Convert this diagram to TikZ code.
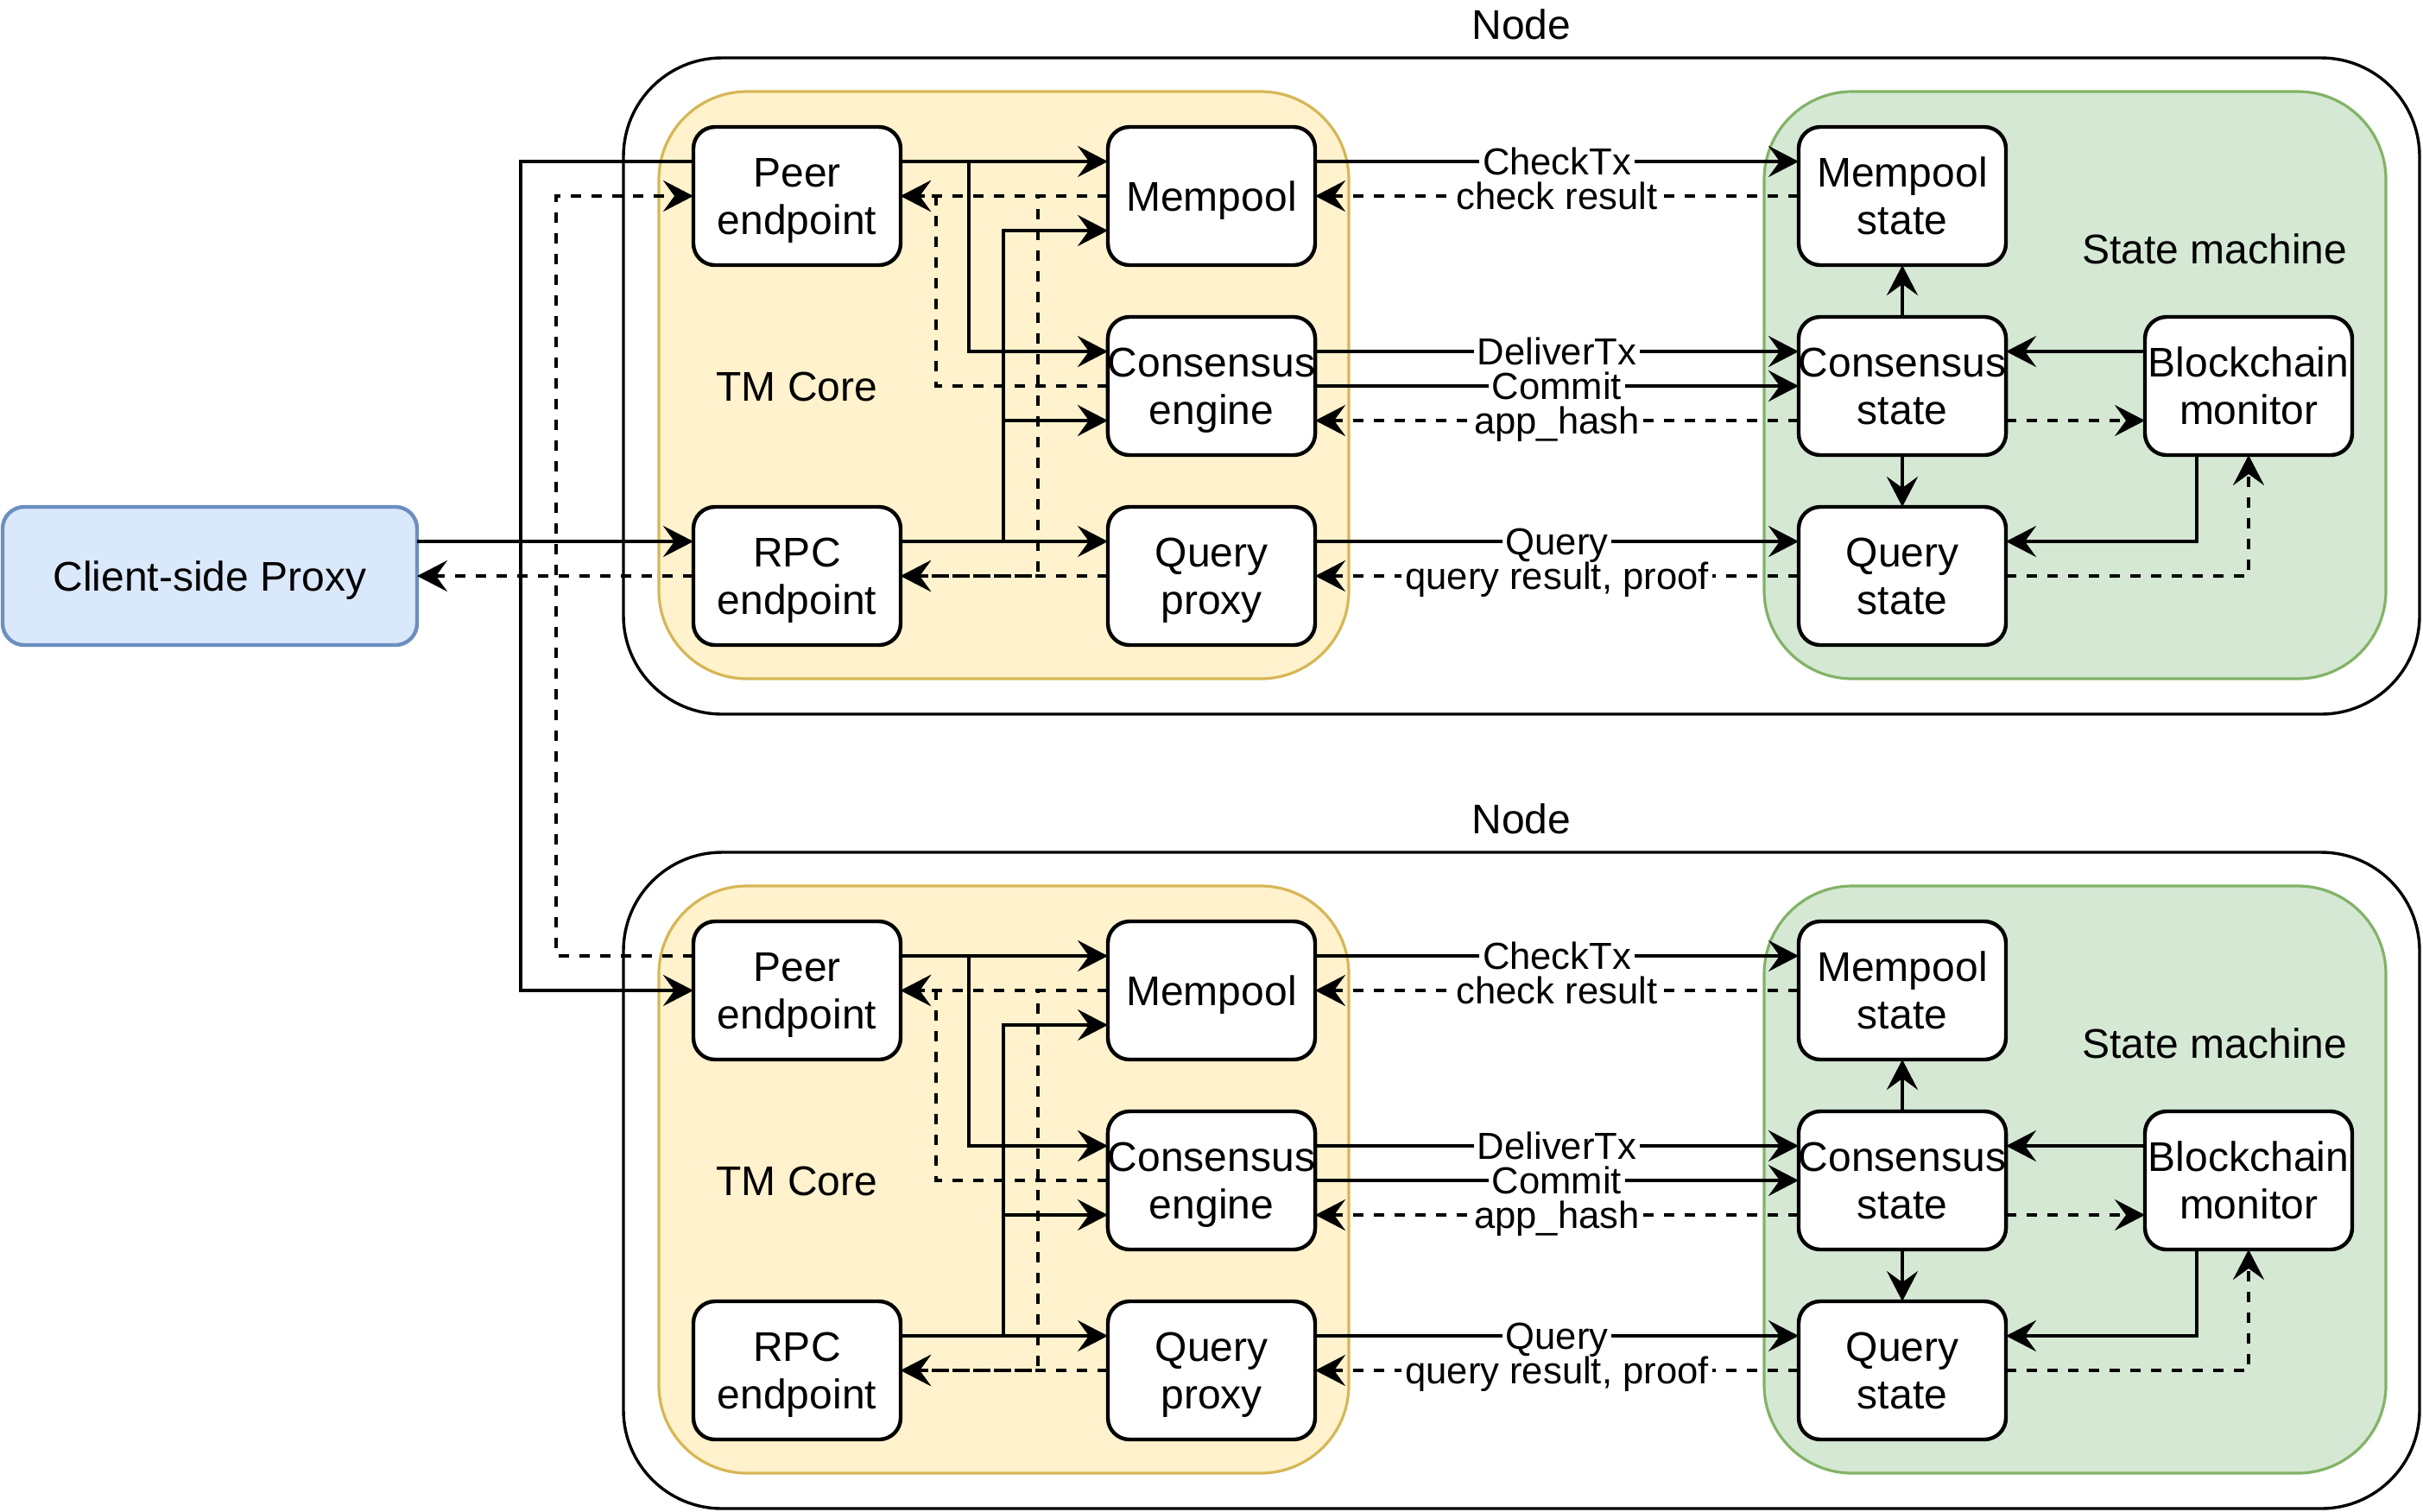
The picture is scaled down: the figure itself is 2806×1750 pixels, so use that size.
\documentclass[tikz,border=0pt]{standalone}
\usepackage{fontspec}
\setmainfont{Liberation Sans}
\usetikzlibrary{arrows.meta}
\definecolor{tmfill}{HTML}{FFF2CC}
\definecolor{tmdraw}{HTML}{D6B656}
\definecolor{smfill}{HTML}{D5E8D4}
\definecolor{smdraw}{HTML}{82B366}
\definecolor{cpfill}{HTML}{DAE8FC}
\definecolor{cpdraw}{HTML}{6C8EBF}
\tikzset{
  box/.style={draw=black, line width=1.1pt, fill=white, rounded corners=6.25pt,
    minimum width=60pt, minimum height=40pt, inner sep=0pt, outer sep=0pt,
    align=center, font=\fontsize{12}{13.75}\selectfont, text depth=0pt},
  cont/.style={line width=0.8pt, rounded corners=25.5pt},
  outerbox/.style={draw=black, line width=0.85pt, rounded corners=28.5pt, fill=white},
  conn/.style={line width=1pt, -{Stealth[length=8.75pt,width=9pt,inset=3.25pt]}},
  ret/.style={conn, dash pattern=on 3pt off 3pt},
  lbl/.style={fill=white, inner xsep=1pt, inner ysep=0pt,
    font=\fontsize{10.9}{12}\selectfont, text height=7.8pt, text depth=0pt, pos=0.5},
  title/.style={font=\fontsize{12}{13.75}\selectfont, anchor=base, inner sep=0pt},
}
\newcommand\tmblock[2]{%
\begin{scope}[shift={(0,#2)}]
  \node[title] (#1title) at (1762,45) {Node};
  \draw[outerbox] (722,67) rectangle (2802,827);
  \draw[cont, draw=tmdraw, fill=tmfill] (763,106) rectangle (1562,786);
  \draw[cont, draw=smdraw, fill=smfill] (2043,106) rectangle (2763,786);
  \node[title] (#1tmlbl) at (923,464) {TM Core};
  \node[title] (#1smlbl) at (2565,305) {State machine};
  \node[box] (#1peer) at (923,227) {Peer\\endpoint};
  \node[box] (#1mem) at (1403,227) {Mempool};
  \node[box] (#1ce) at (1403,447) {Consensus\\engine};
  \node[box] (#1rpc) at (923,667) {RPC\\endpoint};
  \node[box] (#1qp) at (1403,667) {Query\\proxy};
  \node[box] (#1mstate) at (2203,227) {Mempool\\state};
  \node[box] (#1cstate) at (2203,447) {Consensus\\state};
  \node[box] (#1qstate) at (2203,667) {Query\\state};
  \node[box] (#1mon) at (2604,447) {Blockchain\\monitor};
  % TM core internal, solid
  \draw[conn] ([yshift=10pt]#1peer.east) -- ([yshift=10pt]#1mem.west);
  \draw[conn] ([yshift=10pt]#1peer.east) -| (1122,407) -- ([yshift=10pt]#1ce.west);
  \draw[conn] ([yshift=10pt]#1rpc.east) -- ([yshift=10pt]#1qp.west);
  \draw[conn] ([yshift=10pt]#1rpc.east) -| (1162,267) -- ([yshift=-10pt]#1mem.west);
  \draw[conn] ([yshift=10pt]#1rpc.east) -| (1162,487) -- ([yshift=-10pt]#1ce.west);
  % TM core internal, dashed
  \draw[ret] (#1mem.west) -- (#1peer.east);
  \draw[ret] (#1mem.west) -| (1202,667) -- (#1rpc.east);
  \draw[ret] (#1ce.west) -| (1084,227) -- (#1peer.east);
  \draw[ret] (#1qp.west) -- (#1rpc.east);
  % core <-> state machine
  \draw[conn] ([yshift=10pt]#1mem.east) -- node[lbl] (#1lcheck) {CheckTx} ([yshift=10pt]#1mstate.west);
  \draw[ret] (#1mstate.west) -- node[lbl] (#1lcres) {check result} (#1mem.east);
  \draw[conn] ([yshift=10pt]#1ce.east) -- node[lbl] (#1ldel) {DeliverTx} ([yshift=10pt]#1cstate.west);
  \draw[conn] (#1ce.east) -- node[lbl] (#1lcom) {Commit} (#1cstate.west);
  \draw[ret] ([yshift=-10pt]#1cstate.west) -- node[lbl] (#1lhash) {app\_hash} ([yshift=-10pt]#1ce.east);
  \draw[conn] ([yshift=10pt]#1qp.east) -- node[lbl] (#1lq) {Query} ([yshift=10pt]#1qstate.west);
  \draw[ret] (#1qstate.west) -- node[lbl] (#1lqres) {query result, proof} (#1qp.east);
  % state machine internal
  \draw[conn] (#1cstate.north) -- (#1mstate.south);
  \draw[conn] (#1cstate.south) -- (#1qstate.north);
  \draw[conn] ([yshift=10pt]#1mon.west) -- ([yshift=10pt]#1cstate.east);
  \draw[ret] ([yshift=-10pt]#1cstate.east) -- ([yshift=-10pt]#1mon.west);
  \draw[conn] ([xshift=-15pt]#1mon.south) |- ([yshift=10pt]#1qstate.east);
  \draw[ret] (#1qstate.east) -| (#1mon.south);
\end{scope}}
\begin{document}
\begin{tikzpicture}[x=0.25pt, y=-0.25pt]
  \useasboundingbox (0,0) rectangle (2806,1750);
  \tmblock{a}{0}
  \tmblock{b}{920}
  \node[box, draw=cpdraw, fill=cpfill, minimum width=120pt] (client) at (243,667) {Client-side Proxy};
  \draw[conn] ([yshift=10pt]client.east) -- ([yshift=10pt]arpc.west);
  \draw[ret] (arpc.west) -- (client.east);
  \draw[conn] ([yshift=10pt]apeer.west) -| (603,1147) -- (bpeer.west);
  \draw[ret] ([yshift=10pt]bpeer.west) -| (644,227) -- (apeer.west);
\end{tikzpicture}
\end{document}
